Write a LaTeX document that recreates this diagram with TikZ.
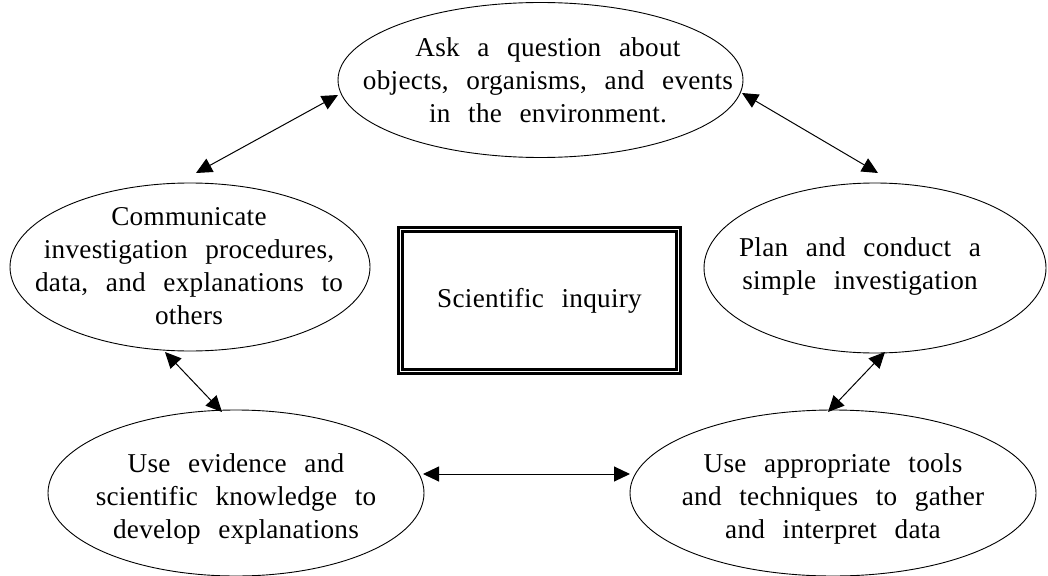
\documentclass[tikz,border=0pt]{standalone}
\usepackage{fontspec}
\setmainfont{Liberation Serif}[LetterSpace=1,WordSpace=2.5]
\usetikzlibrary{shapes.geometric,arrows.meta}

\begin{document}
\begin{tikzpicture}[x=1pt,y=-1pt,
  bubble/.style={ellipse,draw,line width=0.9pt,inner sep=0pt,outer sep=0pt},
  label text/.style={align=center,inner sep=0pt,
    font=\fontsize{27.2}{33}\selectfont},
  twoway/.style={<->,line width=1pt,
    >={Triangle[length=16pt,width=15pt]}},
  framebox/.style={draw,double,double distance=1.8pt,line width=2.6pt,
    minimum width=278pt,minimum height=142pt,inner sep=0pt,outer sep=0pt,
    font=\fontsize{27.2}{33}\selectfont}]

\useasboundingbox (0,0) rectangle (1048,575);

% the five stages around the centre
\node[bubble,minimum width=405pt,minimum height=155pt] (ask) at (540.5,80) {};
\node[bubble,minimum width=360pt,minimum height=168pt] (comm) at (190,267) {};
\node[bubble,minimum width=342pt,minimum height=170pt] (plan) at (875,268) {};
\node[bubble,minimum width=376pt,minimum height=166pt] (evid) at (236,493) {};
\node[bubble,minimum width=406pt,minimum height=166pt] (tools) at (833,493) {};

\node[label text] (ask-t) at (548,80)
  {Ask a question about\\objects, organisms, and events\\in the environment.};
\node[label text] (comm-t) at (189,266)
  {Communicate\\investigation procedures,\\data, and explanations to\\others};
\node[label text] (plan-t) at (860,266)
  {Plan and conduct a\\simple investigation};
\node[label text] (evid-t) at (236,499)
  {Use evidence and\\scientific knowledge to\\develop explanations};
\node[label text] (tools-t) at (833,499)
  {Use appropriate tools\\and techniques to gather\\and interpret data};

% centre box with a double frame
\node[framebox] (core) at (539.5,300.5) {Scientific inquiry};

% two-way links between neighbouring stages
\draw[twoway] ([shift={(6,-10)}]comm.north) -- ([shift={(0,15)}]ask.west);
\draw[twoway] ([shift={(-1,13)}]ask.east) -- ([shift={(3,-10)}]plan.north);
\draw[twoway] ([shift={(-25,1)}]comm.south) -- ([shift={(-14,2)}]evid.north);
\draw[twoway] ([shift={(10,-1)}]plan.south) -- ([shift={(-5,2)}]tools.north);
\draw[twoway] ([shift={(-1,-19)}]evid.east) -- ([shift={(0,-19)}]tools.west);

\end{tikzpicture}
\end{document}
